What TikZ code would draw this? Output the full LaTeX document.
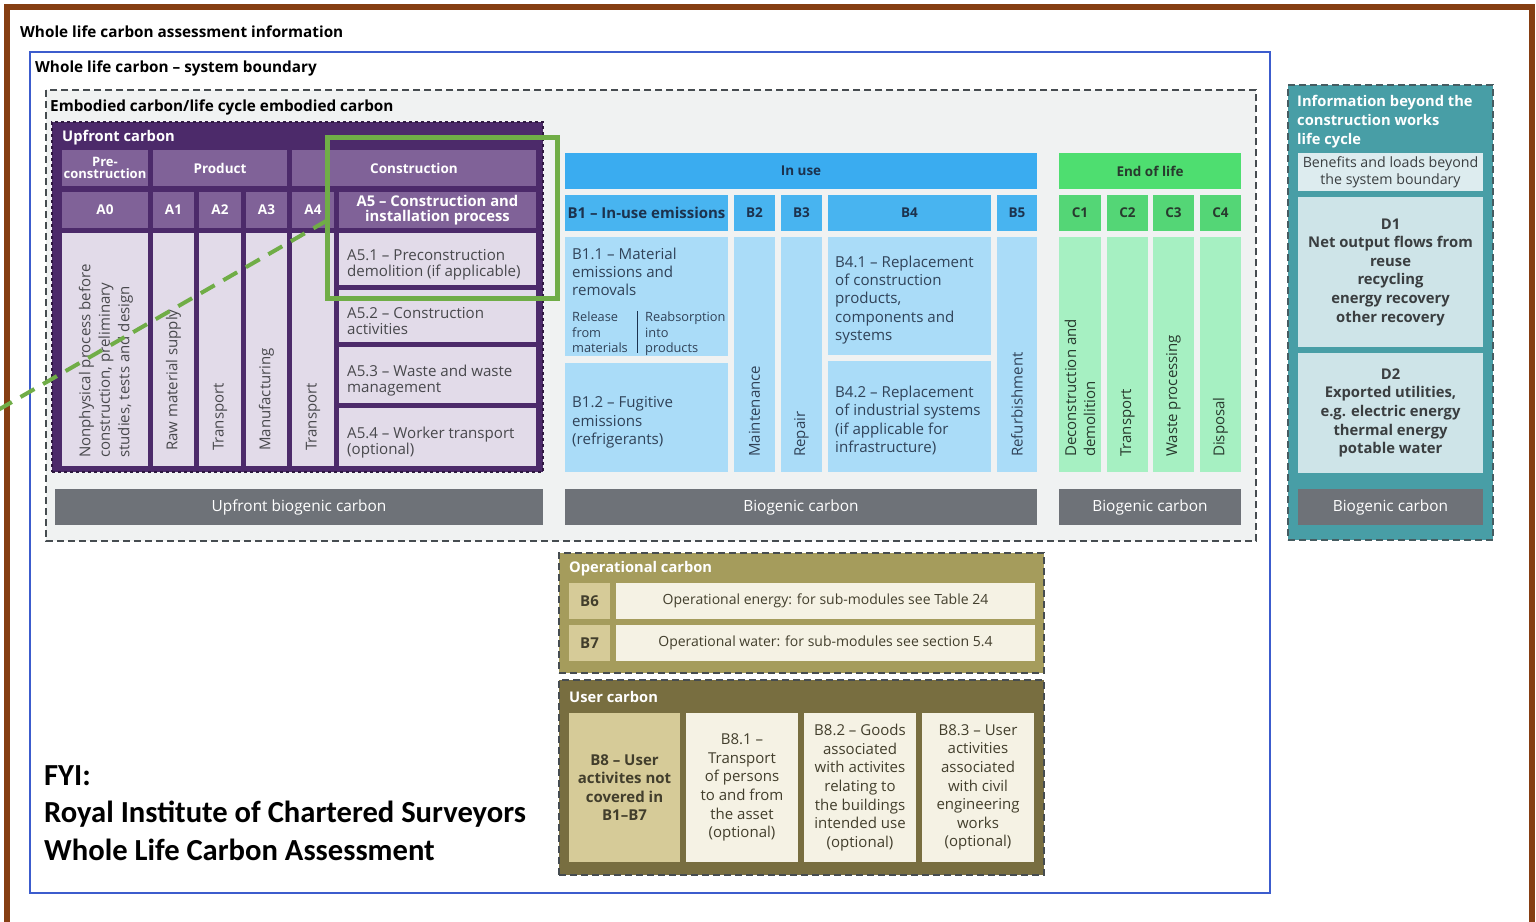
\documentclass[tikz,border=0pt]{standalone}
\usepackage{fontspec}
\setmainfont{Open Sans}
\newfontfamily\fyifont{Carlito}
\definecolor{brownc}{RGB}{134,62,18}
\definecolor{bluec}{RGB}{60,92,205}
\definecolor{embfill}{RGB}{240,242,242}
\definecolor{dashc}{RGB}{70,76,80}
\definecolor{purpDark}{RGB}{76,42,106}
\definecolor{purpMid}{RGB}{128,98,152}
\definecolor{purpLight}{RGB}{226,219,233}
\definecolor{purpText}{RGB}{72,72,76}
\definecolor{inHead}{RGB}{58,172,240}
\definecolor{inRow}{RGB}{72,180,240}
\definecolor{inLight}{RGB}{170,220,248}
\definecolor{inText}{RGB}{28,50,78}
\definecolor{eolHead}{RGB}{78,222,112}
\definecolor{eolRow}{RGB}{84,214,118}
\definecolor{eolLight}{RGB}{166,240,194}
\definecolor{eolText}{RGB}{40,58,46}
\definecolor{bioGrey}{RGB}{110,114,120}
\definecolor{tealc}{RGB}{72,158,166}
\definecolor{tealLight}{RGB}{206,228,232}
\definecolor{tealText}{RGB}{58,62,64}
\definecolor{olive}{RGB}{165,156,92}
\definecolor{oliveDark}{RGB}{120,110,64}
\definecolor{tan}{RGB}{214,203,152}
\definecolor{cream}{RGB}{245,242,228}
\definecolor{oliveText}{RGB}{66,62,44}
\definecolor{greenHi}{RGB}{112,173,71}
\newcommand{\fsz}[2]{\fontsize{#1}{#2}\selectfont}
\newcommand{\blk}[7][]{\node[blk,minimum width={#4-#2},minimum height={#5-#3},#1] (#6) at ({(#2+#4)/2},{(#3+#5)/2}) {#7};}
\begin{document}
\begin{tikzpicture}[x=1pt,y=-1pt,
  blk/.style={rectangle, inner sep=0pt, outer sep=0pt, align=center, draw=none, font=\fsz{14.8}{17}},
  ttl/.style={inner sep=0pt, anchor=west, font=\bfseries\fsz{15.3}{17}, text=black},
  wttl/.style={inner sep=0pt, anchor=west, font=\bfseries\fsz{14.7}{17}, text=white},
  dbox/.style={draw=dashc, line width=1.8pt, dash pattern=on 7pt off 4pt},
  hdrP/.style={fill=purpMid, text=white, font=\bfseries\fsz{13.5}{15}},
  contP/.style={fill=purpLight},
  txtP/.style={text=purpText, align=left, inner sep=0pt, font=\fsz{15.1}{16}, anchor=west},
  rotP/.style={rotate=90, anchor=west, inner sep=0pt, align=left, text=purpText, font=\fsz{15}{19.5}},
  hdrB/.style={fill=inRow, text=inText, font=\bfseries\fsz{13.5}{15}},
  contB/.style={fill=inLight},
  txtB/.style={text=inText!80!gray, align=left, inner sep=0pt, font=\fsz{15.1}{18.3}, anchor=west},
  rotB/.style={rotate=90, anchor=west, inner sep=0pt, align=left, text=inText!80!gray, font=\fsz{15}{19}},
  hdrG/.style={fill=eolRow, text=eolText, font=\bfseries\fsz{13.5}{15}},
  contG/.style={fill=eolLight},
  rotG/.style={rotate=90, anchor=west, inner sep=0pt, align=left, text=eolText, font=\fsz{15}{19}},
  bio/.style={fill=bioGrey, text=white, font=\fsz{15.4}{17}},
  tbox/.style={fill=tealLight, text=tealText, font=\bfseries\fsz{14.8}{18.6}},
  cbox/.style={fill=cream, text=oliveText, font=\fsz{15}{18.6}},
  tbx/.style={fill=tan, text=oliveText, font=\bfseries\fsz{15}{18.6}},
  fyi/.style={inner sep=0pt, anchor=base west, font=\fyifont\bfseries\fsz{30.6}{34}, text=black}
]
\useasboundingbox (0,0) rectangle (1536,921);
\fill[white] (0,0) rectangle (1536,921);
\draw[brownc,line width=6pt] (7,940) -- (7,7) -- (1532,7) -- (1532,940);
\node[ttl] (t0) at (20,32) {Whole life carbon assessment information};
\draw[bluec,line width=2.5pt] (30,52) rectangle (1270,893);
\node[ttl] (t1) at (35,68.5) {Whole life carbon – system boundary};
\draw[dbox, fill=embfill] (46,90) rectangle (1256,541);
\node[ttl] (t2) at (50,107.5) {Embodied carbon/life cycle embodied carbon};

% ---------------- Upfront carbon
\blk[fill=purpDark, draw=purpDark!60!black, dashed, line width=1.2pt]{52}{122}{543}{472}{upf}{}
\node[wttl] (upft) at (62,138) {Upfront carbon};
\blk[hdrP, font=\bfseries\fsz{13}{12.5}]{62}{150}{148}{186}{pre}{Pre-\\construction}
\blk[hdrP]{153}{150}{287}{186}{prod}{Product}
\blk[hdrP]{292}{150}{536}{186}{cons}{Construction}
\blk[hdrP]{62}{192}{148}{228}{a0}{A0}
\blk[hdrP]{153}{192}{194}{228}{a1}{A1}
\blk[hdrP]{199}{192}{241}{228}{a2}{A2}
\blk[hdrP]{246}{192}{287}{228}{a3}{A3}
\blk[hdrP]{292}{192}{334}{228}{a4}{A4}
\blk[hdrP, font=\bfseries\fsz{14.8}{14.5}]{339}{192}{536}{228}{a5}{A5 – Construction and\\installation process}
\blk[contP]{62}{233}{148}{466}{a0c}{}
\blk[contP]{153}{233}{194}{466}{a1c}{}
\blk[contP]{199}{233}{241}{466}{a2c}{}
\blk[contP]{246}{233}{287}{466}{a3c}{}
\blk[contP]{292}{233}{334}{466}{a4c}{}
\node[rotP] (a0t) at (106,458) {Nonphysical process before\\construction, preliminary\\studies, tests and design};
\node[rotP] (a1t) at (173.5,451) {Raw material supply};
\node[rotP] (a2t) at (220,451) {Transport};
\node[rotP] (a3t) at (266.5,451) {Manufacturing};
\node[rotP] (a4t) at (313,451) {Transport};
\blk[contP]{339}{233}{536}{285}{a51}{}
\blk[contP]{339}{290}{536}{342}{a52}{}
\blk[contP]{339}{347}{536}{403}{a53}{}
\blk[contP]{339}{408}{536}{466}{a54}{}
\node[txtP] (a51t) at ([xshift=8pt,yshift=-5.5pt]a51.west) {A5.1 – Preconstruction\\demolition (if applicable)};
\node[txtP] (a52t) at ([xshift=8pt,yshift=-5.5pt]a52.west) {A5.2 – Construction\\activities};
\node[txtP] (a53t) at ([xshift=8pt,yshift=-5.5pt]a53.west) {A5.3 – Waste and waste\\management};
\node[txtP] (a54t) at ([xshift=8pt,yshift=-5.5pt]a54.west) {A5.4 – Worker transport\\(optional)};

% ---------------- In use
\blk[fill=inHead, text=inText, font=\bfseries\fsz{13.5}{15}]{565}{153}{1037}{189}{inuse}{In use}
\blk[hdrB, font=\bfseries\fsz{15}{15}]{565}{195}{728}{231}{b1}{B1 – In-use emissions}
\blk[hdrB]{734}{195}{775}{231}{b2}{B2}
\blk[hdrB]{781}{195}{822}{231}{b3}{B3}
\blk[hdrB]{828}{195}{991}{231}{b4}{B4}
\blk[hdrB]{997}{195}{1037}{231}{b5}{B5}
\blk[contB]{565}{237}{728}{356}{b11}{}
\blk[contB]{565}{363}{728}{472}{b12}{}
\blk[contB]{734}{237}{775}{472}{b2c}{}
\blk[contB]{781}{237}{822}{472}{b3c}{}
\blk[contB]{828}{237}{991}{355}{b41}{}
\blk[contB]{828}{361}{991}{472}{b42}{}
\blk[contB]{997}{237}{1037}{472}{b5c}{}
\node[txtB, anchor=north west] (b11t) at (572,247.5) {B1.1 – Material\\emissions and\\removals};
\node[txtB, anchor=north west, font=\fsz{12.8}{15.5}] (b11r) at (572,312) {Release\\from\\materials};
\node[txtB, anchor=north west, font=\fsz{12.8}{15.5}] (b11a) at (645,312) {Reabsorption\\into\\products};
\draw[inText, line width=1pt] (637,311) -- (637,353);
\node[txtB] (b12t) at ([xshift=7pt,yshift=-5pt]b12.west) {B1.2 – Fugitive\\emissions\\(refrigerants)};
\node[txtB] (b41t) at ([xshift=7pt,yshift=-4pt]b41.west) {B4.1 – Replacement\\of construction\\products,\\components and\\systems};
\node[txtB] (b42t) at ([xshift=7pt,yshift=-4pt]b42.west) {B4.2 – Replacement\\of industrial systems\\(if applicable for\\infrastructure)};
\node[rotB] (b2t) at (754.5,457) {Maintenance};
\node[rotB] (b3t) at (801.5,457) {Repair};
\node[rotB] (b5t) at (1017,457) {Refurbishment};

% ---------------- End of life
\blk[fill=eolHead, text=eolText, font=\bfseries\fsz{13.5}{15}]{1059}{153}{1241}{189}{eol}{End of life}
\blk[hdrG]{1059}{195}{1101}{231}{c1}{C1}
\blk[hdrG]{1107}{195}{1148}{231}{c2}{C2}
\blk[hdrG]{1153}{195}{1194}{231}{c3}{C3}
\blk[hdrG]{1200}{195}{1241}{231}{c4}{C4}
\blk[contG]{1059}{237}{1101}{472}{c1c}{}
\blk[contG]{1107}{237}{1148}{472}{c2c}{}
\blk[contG]{1153}{237}{1194}{472}{c3c}{}
\blk[contG]{1200}{237}{1241}{472}{c4c}{}
\node[rotG] (c1t) at (1080,457) {Deconstruction and\\demolition};
\node[rotG] (c2t) at (1127.5,457) {Transport};
\node[rotG] (c3t) at (1173.5,457) {Waste processing};
\node[rotG] (c4t) at (1220.5,457) {Disposal};

% ---------------- Biogenic bars
\blk[bio]{55}{489}{543}{525}{bio1}{Upfront biogenic carbon}
\blk[bio]{565}{489}{1037}{525}{bio2}{Biogenic carbon}
\blk[bio]{1059}{489}{1241}{525}{bio3}{Biogenic carbon}

% ---------------- Beyond life cycle
\blk[fill=tealc, dbox, draw=dashc!80!tealc]{1288}{85}{1493}{540}{beyond}{}
\node[wttl, anchor=north west, align=left, font=\bfseries\fsz{14.7}{19}] (beyt) at (1297,95) {Information beyond the\\construction works\\life cycle};
\blk[fill=tealLight!70!white, text=tealText, font=\fsz{14.2}{17}]{1298}{153}{1483}{191}{ben}{Benefits and loads beyond\\the system boundary}
\blk[tbox]{1298}{197}{1483}{347}{d1}{D1\\Net output flows from\\reuse\\recycling\\energy recovery\\other recovery}
\blk[tbox]{1298}{353}{1483}{473}{d2}{D2\\Exported utilities,\\e.g. electric energy\\thermal energy\\potable water}
\blk[bio]{1298}{489}{1483}{525}{bio4}{Biogenic carbon}

% ---------------- Operational carbon
\blk[fill=olive, dbox]{559}{553}{1044}{673}{oper}{}
\node[wttl] (opert) at (569,569) {Operational carbon};
\blk[tbx]{569}{583}{610}{619}{b6}{B6}
\blk[cbox, font=\fsz{14}{17}]{616}{583}{1035}{619}{b6d}{Operational energy: for sub-modules see Table 24}
\blk[tbx]{569}{625}{610}{661}{b7}{B7}
\blk[cbox, font=\fsz{14}{17}]{616}{625}{1035}{661}{b7d}{Operational water: for sub-modules see section 5.4}

% ---------------- User carbon
\blk[fill=oliveDark, dbox]{559}{680}{1044}{875}{user}{}
\node[wttl] (usert) at (569,697) {User carbon};
\blk[tbx]{569}{713}{680}{862}{b8}{B8 – User\\activites not\\covered in\\B1–B7}
\blk[cbox]{686}{713}{798}{862}{b81}{B8.1 –\\Transport\\of persons\\to and from\\the asset\\(optional)}
\blk[cbox]{804}{713}{916}{862}{b82}{B8.2 – Goods\\associated\\with activites\\relating to\\the buildings\\intended use\\(optional)}
\blk[cbox]{922}{713}{1034}{862}{b83}{B8.3 – User\\activities\\associated\\with civil\\engineering\\works\\(optional)}

% ---------------- FYI
\node[fyi] (fyi1) at (44,785) {FYI:};
\node[fyi] (fyi2) at (44,822) {Royal Institute of Chartered Surveyors};
\node[fyi] (fyi3) at (44,860) {Whole Life Carbon Assessment};

% ---------------- Highlight
\blk[draw=greenHi, line width=5pt]{327}{137}{557}{298}{gbox}{}
\coordinate (gl) at (-2,410);
\draw[greenHi, line width=4pt, dash pattern=on 16pt off 10pt] (gl) -- ([yshift=-3pt]gbox.west);
\end{tikzpicture}
\end{document}
